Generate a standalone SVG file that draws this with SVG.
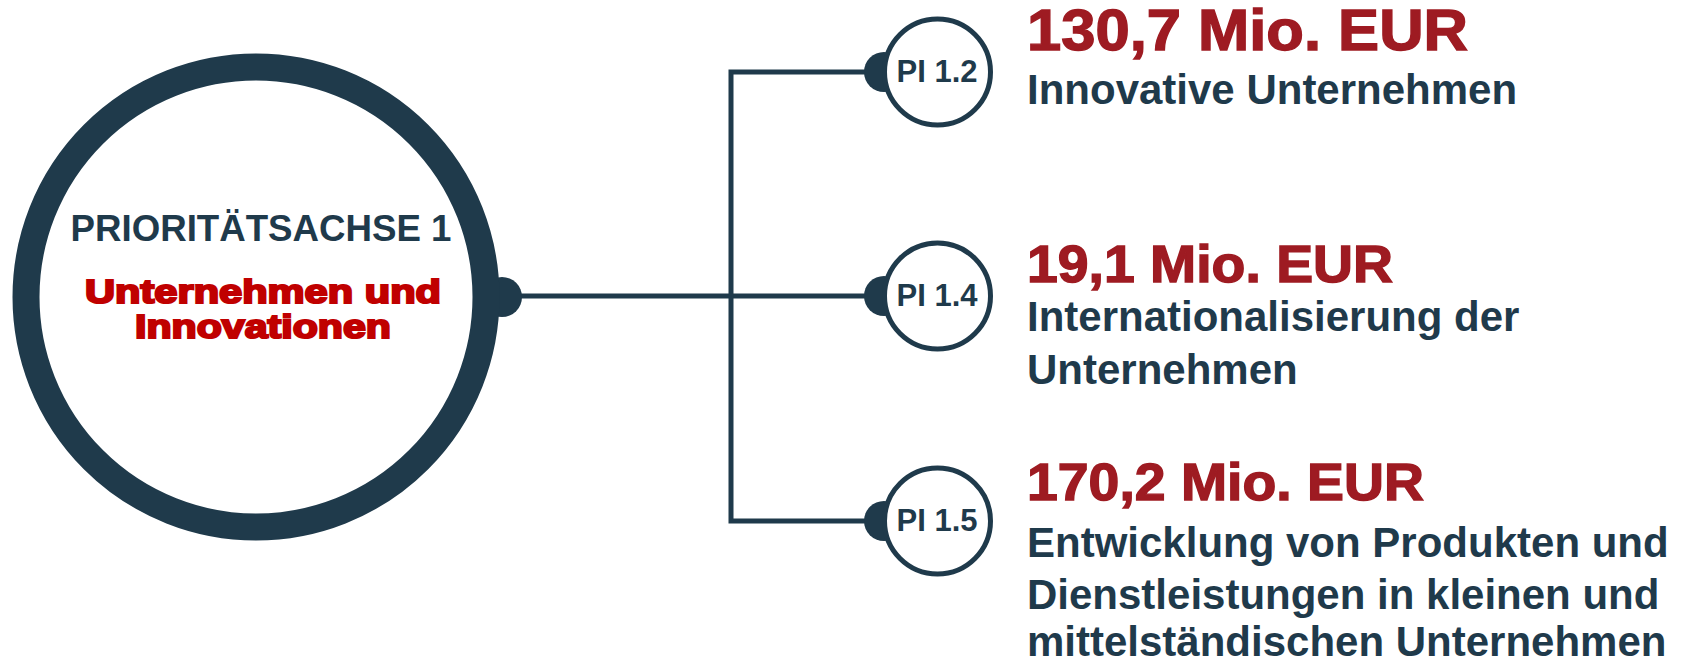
<svg xmlns="http://www.w3.org/2000/svg" width="1681" height="662" viewBox="0 0 1681 662">
<style>
.navy{fill:#1f3a4b}
.ring{fill:#ffffff;stroke:#1f3a4b}
.conn{fill:none;stroke:#1f3a4b;stroke-width:5}
.t{font-family:"Liberation Sans",Arial,sans-serif;font-weight:bold}
.body{font-size:42px;fill:#1f3a4b}
.amt{fill:#9e1b22;stroke:#9e1b22;stroke-width:1.4}
.pi{font-size:31px;fill:#1f3a4b;text-anchor:middle}
.red{fill:#c00000;stroke:#c00000;stroke-width:2.2;text-anchor:middle;font-size:34px}
</style>
<rect width="1681" height="662" fill="#ffffff"/>
<g id="connectors">
<path class="conn" d="M502 296 H883"/>
<path class="conn" d="M883 72 H731 V521 H883"/>
</g>
<g id="main">
<circle class="navy" cx="502" cy="297" r="20"/>
<circle class="ring" cx="256" cy="297" r="230" stroke-width="27"/>
<text class="t" x="261" y="241" font-size="37" fill="#1f3a4b" text-anchor="middle" textLength="381" lengthAdjust="spacingAndGlyphs">PRIORITÄTSACHSE 1</text>
<text class="t red" x="263" y="303" textLength="356" lengthAdjust="spacingAndGlyphs">Unternehmen und</text>
<text class="t red" x="263" y="338" textLength="256" lengthAdjust="spacingAndGlyphs">Innovationen</text>
</g>
<g id="pi12">
<circle class="navy" cx="884" cy="72" r="20"/>
<circle class="ring" cx="937.5" cy="72" r="53" stroke-width="5"/>
<text class="t pi" x="937" y="82">PI 1.2</text>
</g>
<g id="pi14">
<circle class="navy" cx="884" cy="296" r="20"/>
<circle class="ring" cx="937.5" cy="296" r="53" stroke-width="5"/>
<text class="t pi" x="937" y="306">PI 1.4</text>
</g>
<g id="pi15">
<circle class="navy" cx="884" cy="521" r="20"/>
<circle class="ring" cx="937.5" cy="521" r="53" stroke-width="5"/>
<text class="t pi" x="937" y="531">PI 1.5</text>
</g>
<g id="text12">
<text class="t amt" x="1027" y="50" font-size="58" textLength="441" lengthAdjust="spacingAndGlyphs">130,7 Mio. EUR</text>
<text class="t body" x="1027" y="104">Innovative Unternehmen</text>
</g>
<g id="text14">
<text class="t amt" x="1027" y="282" font-size="52" textLength="366" lengthAdjust="spacingAndGlyphs">19,1 Mio. EUR</text>
<text class="t body" x="1027" y="331">Internationalisierung der</text>
<text class="t body" x="1027" y="384">Unternehmen</text>
</g>
<g id="text15">
<text class="t amt" x="1027" y="500" font-size="52" textLength="397" lengthAdjust="spacingAndGlyphs">170,2 Mio. EUR</text>
<text class="t body" x="1027" y="557">Entwicklung von Produkten und</text>
<text class="t body" x="1027" y="609">Dienstleistungen in kleinen und</text>
<text class="t body" x="1027" y="656">mittelständischen Unternehmen</text>
</g>
</svg>
